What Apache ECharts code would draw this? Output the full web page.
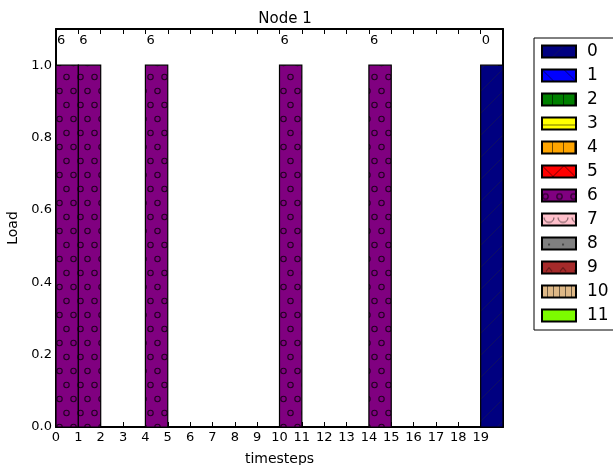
<!DOCTYPE html>
<html>
<head>
<meta charset="utf-8">
<script src="https://cdn.jsdelivr.net/npm/echarts@6/dist/echarts.min.js"></script>
<style>html,body{margin:0;padding:0;background:#fff;overflow:hidden}#c{width:613px;height:465px}</style>
</head>
<body>
<div id="c"></div>
<script>
// ---- data ----
const timesteps = [0,1,2,3,4,5,6,7,8,9,10,11,12,13,14,15,16,17,18,19];
const seriesNames = ['0','1','2','3','4','5','6','7','8','9','10','11'];
const load0  = [0,0,0,0,0,0,0,0,0,0,0,0,0,0,0,0,0,0,0,1];
const load1  = [0,0,0,0,0,0,0,0,0,0,0,0,0,0,0,0,0,0,0,0];
const load2  = [0,0,0,0,0,0,0,0,0,0,0,0,0,0,0,0,0,0,0,0];
const load3  = [0,0,0,0,0,0,0,0,0,0,0,0,0,0,0,0,0,0,0,0];
const load4  = [0,0,0,0,0,0,0,0,0,0,0,0,0,0,0,0,0,0,0,0];
const load5  = [0,0,0,0,0,0,0,0,0,0,0,0,0,0,0,0,0,0,0,0];
const load6  = [1,1,0,0,1,0,0,0,0,0,1,0,0,0,1,0,0,0,0,0];
const load7  = [0,0,0,0,0,0,0,0,0,0,0,0,0,0,0,0,0,0,0,0];
const load8  = [0,0,0,0,0,0,0,0,0,0,0,0,0,0,0,0,0,0,0,0];
const load9  = [0,0,0,0,0,0,0,0,0,0,0,0,0,0,0,0,0,0,0,0];
const load10 = [0,0,0,0,0,0,0,0,0,0,0,0,0,0,0,0,0,0,0,0];
const load11 = [0,0,0,0,0,0,0,0,0,0,0,0,0,0,0,0,0,0,0,0];
const topLabels = ['6','6','','','6','','','','','','6','','','','6','','','','','0'];
const yTicks = [0.0,0.2,0.4,0.6,0.8,1.0];

const loads = [load0,load1,load2,load3,load4,load5,load6,load7,load8,load9,load10,load11];
const baseColors = ['#000080','#0000ff','#008000','#ffff00','#ffa500','#ff0000','#800080','#ffc0cb','#808080','#a52a2a','#deb887','#7cfc00'];

// ---- hatch patterns ----
function makePattern(i){
  const c = document.createElement('canvas');
  const bg = baseColors[i];
  let w=22,h=22;
  if(i===6){w=14;h=28;}
  if(i===2||i===4){w=11;h=11;}
  if(i===10){w=6;h=6;}
  if(i===7){w=14;h=14;}
  if(i===8){w=14;h=14;}
  if(i===9){w=14;h=14;}
  if(i===3){w=8;h=8;}
  c.width=w;c.height=h;
  const g=c.getContext('2d');
  g.fillStyle=bg;g.fillRect(0,0,w,h);
  g.lineWidth=1;
  g.strokeStyle='rgba(0,0,0,0.55)';
  switch(i){
    case 0:
      g.strokeStyle='rgba(30,30,70,0.5)';
      g.beginPath();g.moveTo(0,h);g.lineTo(w,0);g.stroke();break;
    case 1:
      g.beginPath();g.moveTo(0,0);g.lineTo(w,h);g.stroke();break;
    case 2: case 4: case 10:
      g.beginPath();g.moveTo(w-0.5,0);g.lineTo(w-0.5,h);g.stroke();break;
    case 3:
      g.beginPath();g.moveTo(0,h-0.5);g.lineTo(w,h-0.5);g.stroke();break;
    case 5:
      g.beginPath();g.moveTo(0,0);g.lineTo(w,h);g.moveTo(w,0);g.lineTo(0,h);g.stroke();break;
    case 6:
      g.strokeStyle='#220022';g.lineWidth=1.1;
      g.beginPath();g.arc(3.5,7,2.7,0,Math.PI*2);g.stroke();
      g.beginPath();g.arc(10.5,21,2.7,0,Math.PI*2);g.stroke();
      break;
    case 7:
      g.strokeStyle='rgba(0,0,0,0.6)';
      g.beginPath();g.arc(7,4,5,0,Math.PI);g.stroke();break;
    case 8:
      g.fillStyle='rgba(0,0,0,0.6)';
      g.beginPath();g.arc(7,7,1,0,Math.PI*2);g.fill();break;
    case 9:
      g.beginPath();g.moveTo(4,10);g.lineTo(7,6);g.lineTo(10,10);g.stroke();break;
  }
  return {image:c,repeat:'repeat'};
}

function renderBar(params, api){
  const t=api.value(0), b=api.value(1), top=api.value(2);
  if(top<=b) return null;
  const p0=api.coord([t,b]), p1=api.coord([t+1,top]);
  return {type:'rect',
    shape:{x:p0[0],y:p1[1],width:p1[0]-p0[0],height:p0[1]-p1[1]},
    style:api.style({lineWidth:1.2,stroke:'#000'})};
}

const cum = timesteps.map(()=>0);
const series = loads.map((arr,i)=>{
  const data = timesteps.map((t,k)=>{const b=cum[k];cum[k]+=arr[k];return [t,b,cum[k]];});
  return {name:seriesNames[i],type:'custom',renderItem:renderBar,
    itemStyle:{color:makePattern(i),borderColor:'#000',borderWidth:1},
    encode:{x:[0],y:[2]},data:data,z:2};
});
series.push({name:'labels',type:'custom',z:5,silent:true,
  data:timesteps.map((t,k)=>[t,cum[k],topLabels[k]]),
  encode:{x:[0],y:[1]},
  renderItem:function(params,api){
    const k=params.dataIndex; const txt=topLabels[k];
    if(!txt) return null;
    const p=api.coord([api.value(0),api.value(1)]);
    return {type:'text',x:p[0]+1,y:p[1]-25,
      style:{text:txt,fill:'#000',font:'13px "DejaVu Sans"',textAlign:'left',textVerticalAlign:'middle'}};
  }
});

const axisFont={fontFamily:'DejaVu Sans',fontSize:13,color:'#000'};
const chart=echarts.init(document.getElementById('c'),null,{renderer:'canvas'});
chart.setOption({
  animation:false,
  backgroundColor:'#fff',
  title:{text:'Node 1',left:280,top:7,textAlign:'center',
    textStyle:{fontFamily:'DejaVu Sans',fontSize:15,fontWeight:'normal',color:'#000'}},
  grid:{left:56,right:110,top:29,bottom:38,containLabel:false,outerBoundsMode:'none'},
  legend:{data:seriesNames,orient:'vertical',left:534,top:38,itemWidth:34,itemHeight:12,itemGap:7,
    itemTextGap:13,padding:[5,20,6,7],borderColor:'#000',borderWidth:1,icon:'rect',
    textStyle:{fontFamily:'DejaVu Sans',fontSize:17,color:'#000',padding:[0,0,0,6]},selectedMode:false},
  xAxis:[
    {type:'value',min:0,max:20,interval:1,position:'bottom',
     name:'timesteps',nameLocation:'middle',nameGap:25,
     nameTextStyle:{fontFamily:'DejaVu Sans',fontSize:14,color:'#000'},
     axisLine:{onZero:false,lineStyle:{color:'#000',width:2}},
     axisTick:{inside:true,length:5,lineStyle:{color:'#000'}},
     axisLabel:Object.assign({margin:4,formatter:v=>v>=20?'':String(v)},axisFont),
     splitLine:{show:false}},
    {type:'value',min:0,max:20,interval:1,position:'top',
     axisLine:{onZero:false,lineStyle:{color:'#000',width:2}},
     axisTick:{inside:true,length:5,lineStyle:{color:'#000'}},
     axisLabel:{show:false},splitLine:{show:false}}
  ],
  yAxis:[
    {type:'value',min:0,max:1.1,interval:0.2,position:'left',
     name:'Load',nameLocation:'middle',nameGap:31,
     nameTextStyle:{fontFamily:'DejaVu Sans',fontSize:14,color:'#000'},
     axisLine:{show:true,onZero:false,lineStyle:{color:'#000',width:2}},
     axisTick:{inside:true,length:5,lineStyle:{color:'#000'}},
     axisLabel:Object.assign({margin:4,showMaxLabel:false,
       formatter:v=>{const m=yTicks.find(x=>Math.abs(x-v)<1e-6);return m===undefined?'':m.toFixed(1);}},axisFont),
     splitLine:{show:false}},
    {type:'value',min:0,max:1.1,interval:0.2,position:'right',
     axisLine:{show:true,onZero:false,lineStyle:{color:'#000',width:2}},
     axisTick:{inside:true,length:5,lineStyle:{color:'#000'}},
     axisLabel:{show:false},splitLine:{show:false}}
  ],
  series:series
});
</script>
</body>
</html>
